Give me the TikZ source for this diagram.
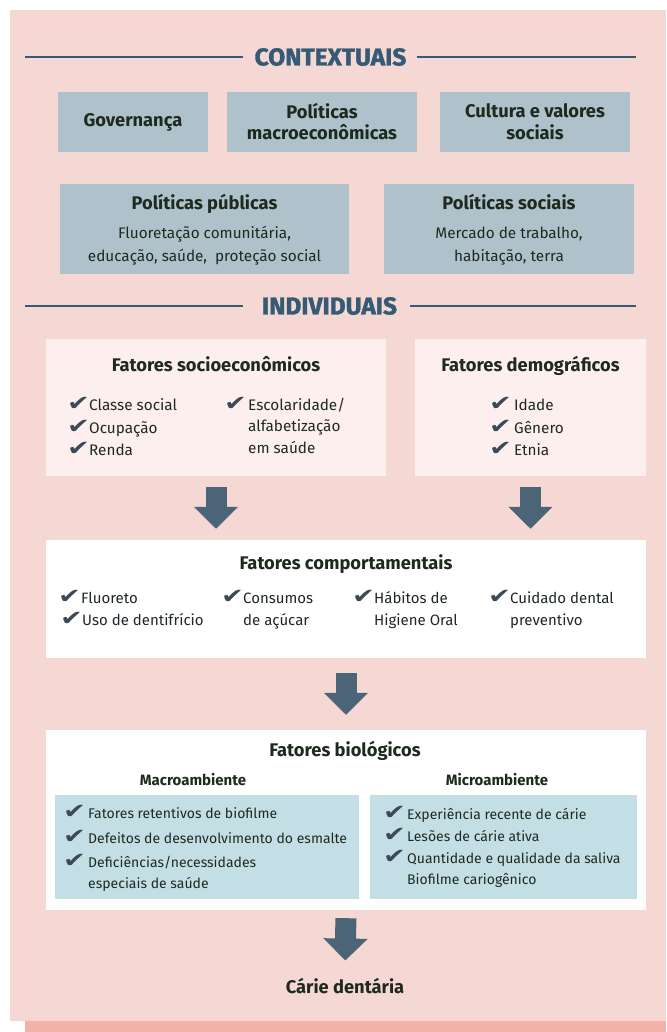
\documentclass[tikz,border=0pt]{standalone}
\usepackage{fontspec}
\setmainfont{Fira Sans}
\newfontfamily\hfont{Fira Sans}[BoldFeatures={FakeBold=1.5}]
\newfontfamily\ckfont{DejaVu Sans}
\usetikzlibrary{arrows.meta}
\definecolor{bgpink}{HTML}{F5D8D3}
\definecolor{bandpink}{HTML}{F2B1A9}
\definecolor{graybox}{HTML}{AFC1CA}
\definecolor{lpink}{HTML}{FCEFED}
\definecolor{lblue}{HTML}{C4DEE6}
\definecolor{headc}{HTML}{355A75}
\definecolor{arrc}{HTML}{4B6477}
\definecolor{txt}{HTML}{1F2A1F}
\definecolor{chkc}{HTML}{3A4A56}
\newcommand\tsz{\fontsize{18.3}{22}\selectfont\bfseries}
\newcommand\bsz{\fontsize{15.3}{22.5}\selectfont}
\newcommand\chkitem[5]{%
  \node[chk] (k#1) at (#2,#4) {\scalebox{1.3}[1]{✔}};
  \node[item] (t#1) at (#3,#4) {\begin{tabular}[t]{@{}l@{}}#5\end{tabular}};}
\begin{document}
\begin{tikzpicture}[x=1pt,y=-1pt,
  box/.style={draw=none,inner sep=0pt,minimum width=#1},
  gbox/.style={box=#1,fill=graybox,text=txt,align=center,font=\tsz},
  head/.style={text=headc,font=\hfont\fontsize{24.5}{26}\selectfont\bfseries,inner sep=0pt},
  hline/.style={draw=headc,line width=1.6pt},
  title/.style={text=txt,font=\tsz,inner sep=0pt,anchor=base},
  sub/.style={text=txt,font=\fontsize{15}{17}\selectfont\bfseries,inner sep=0pt,anchor=base},
  body/.style={text=txt,font=\fontsize{15.3}{23}\selectfont,inner sep=0pt,anchor=base},
  chk/.style={text=chkc,font=\ckfont\fontsize{21}{21}\selectfont,inner sep=0pt,anchor=base west},
  item/.style={text=txt,font=\bsz,inner sep=0pt,anchor=base west},
  bigarrow/.style={draw=arrc,line width=21pt,-{Triangle[width=43pt,length=22pt]}},
]
\useasboundingbox (0,0) rectangle (666,1032);
\fill[white] (0,0) rectangle (666,1032);
\fill[bandpink] (25,1021) rectangle (666,1032);
\fill[bgpink] (10,10) rectangle (666,1021);

% CONTEXTUAIS
\node[head] (hc) at (330.5,57) {CONTEXTUAIS};
\coordinate (hcl) at (25,57);
\coordinate (hcr) at (636,57);
\draw[hline] (hcl) -- ([xshift=-11pt]hc.west);
\draw[hline] ([xshift=10pt]hc.east) -- (hcr);

\node[gbox=150pt,minimum height=60pt] (gov) at (133,122) {Governança};
\node[gbox=190pt,minimum height=60pt] (mac) at (322,122) {Políticas\\[-1pt]macroeconômicas};
\node[gbox=190pt,minimum height=60pt] (cul) at (535,122) {Cultura e valores\\sociais};

\node[box=289pt,minimum height=90pt,fill=graybox] (pub) at (204.5,229) {};
\node[title] (pubt) at (204.5,210) {Políticas públicas};
\node[body] (pubb) at (204.5,238) {\begin{tabular}[t]{@{}c@{}}Fluoretação comunitária,\\educação, saúde,\ \ proteção social\end{tabular}};
\node[box=250pt,minimum height=90pt,fill=graybox] (soc) at (509,229) {};
\node[title] (soct) at (509,210) {Políticas sociais};
\node[body] (socb) at (509,238) {\begin{tabular}[t]{@{}c@{}}Mercado de trabalho,\\habitação, terra\end{tabular}};

% INDIVIDUAIS
\node[head] (hi) at (329.5,306) {INDIVIDUAIS};
\coordinate (hil) at (25,306);
\coordinate (hir) at (636,306);
\draw[hline] (hil) -- ([xshift=-19pt]hi.west);
\draw[hline] ([xshift=13pt]hi.east) -- (hir);

\node[box=340pt,minimum height=137pt,fill=lpink] (sec) at (216,407.5) {};
\node[title] (sect) at (216,371) {Fatores socioeconômicos};
\chkitem{s1}{67}{89}{410}{Classe social}
\chkitem{s2}{67}{89}{433}{Ocupação}
\chkitem{s3}{67}{89}{455}{Renda}
\begin{scope}[item/.append style={font=\fontsize{15.3}{21.5}\selectfont}]
\chkitem{s4}{224}{248}{410}{Escolaridade/\\alfabetização\\em saúde}
\end{scope}

\node[box=231pt,minimum height=137pt,fill=lpink] (dem) at (530.5,407.5) {};
\node[title] (demt) at (530.5,371) {Fatores demográficos};
\chkitem{d1}{489}{514}{410}{Idade}
\chkitem{d2}{489}{514}{433}{Gênero}
\chkitem{d3}{489}{514}{455}{Etnia}

% comportamentais
\node[box=600pt,minimum height=118pt,fill=white] (comp) at (346,599) {};
\node[title] (compt) at (346,569) {Fatores comportamentais};
\begin{scope}[item/.append style={font=\fontsize{15}{22}\selectfont}]
\chkitem{c1}{58}{81}{603}{Fluoreto}
\chkitem{c2}{60}{82}{625}{Uso de dentifrício}
\chkitem{c3}{221}{243}{603}{Consumos\\de açúcar}
\chkitem{c4}{352}{374}{603}{Hábitos de\\Higiene Oral}
\chkitem{c5}{488}{510}{603}{Cuidado dental\\preventivo}
\end{scope}

% biologicos
\node[box=600pt,minimum height=180pt,fill=white] (bio) at (346,820) {};
\node[title] (biot) at (345,756) {Fatores biológicos};
\node[sub] (macro) at (193,785) {Macroambiente};
\node[sub] (micro) at (497,785) {Microambiente};
\node[box=304pt,minimum height=104pt,fill=lblue] (macb) at (207,847) {};
\node[box=267pt,minimum height=104pt,fill=lblue] (micb) at (503.5,847) {};
\begin{scope}[item/.append style={font=\fontsize{14}{21}\selectfont}]
\chkitem{m1}{63}{88}{818}{Fatores retentivos de biofilme}
\chkitem{m2}{63}{88}{843}{Defeitos de desenvolvimento do esmalte}
\chkitem{m3}{63}{88}{867}{Deficiências/necessidades\\especiais de saúde}
\chkitem{n1}{383}{407}{819}{Experiência recente de cárie}
\chkitem{n2}{383}{407}{841}{Lesões de cárie ativa}
\chkitem{n3}{383}{407}{863}{Quantidade e qualidade da saliva\\Biofilme cariogênico}
\end{scope}

\node[title] (carie) at (345,993) {Cárie dentária};

% arrows
\draw[bigarrow,shorten <=11pt,shorten >=11pt] (sec.south) -- (sec.south |- comp.north);
\draw[bigarrow,shorten <=11pt,shorten >=11pt] (dem.south) -- (dem.south |- comp.north);
\draw[bigarrow,shorten <=15pt,shorten >=15pt] (comp.south) -- (comp.south |- bio.north);
\draw[bigarrow,shorten <=8pt,shorten >=17pt] (bio.south) -- (carie.north);
\end{tikzpicture}
\end{document}
